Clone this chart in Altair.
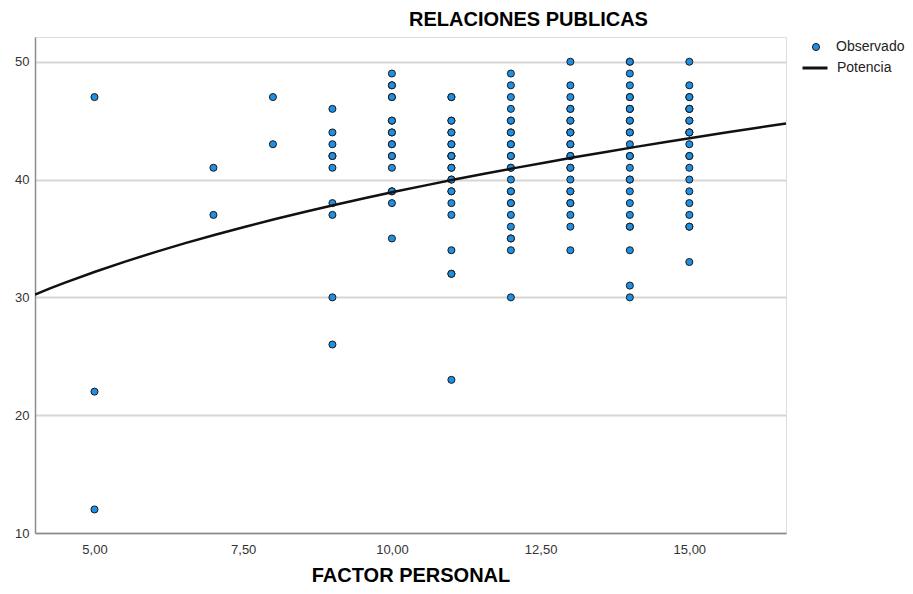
import altair as alt
import pandas as pd

# RELACIONES PUBLICAS values observed at each FACTOR PERSONAL score
factor_values = [5, 7, 8, 9, 10, 11, 12, 13, 14, 15]
rp_5 = [47, 22, 12]
rp_7 = [41, 37]
rp_8 = [47, 43]
rp_9 = [46, 44, 43, 42, 42, 41, 38, 37, 30, 26]
rp_10 = [49, 48, 48, 47, 47, 45, 45, 44, 44, 43, 43, 42, 42, 41, 39, 39, 38, 35]
rp_11 = [47, 47, 45, 45, 44, 44, 43, 43, 42, 42, 42, 41, 41, 40, 40, 39, 39,
         38, 37, 34, 32, 32, 23]
rp_12 = [49, 48, 47, 46, 45, 45, 44, 44, 43, 43, 42, 42, 41, 41, 40, 39, 39,
         38, 38, 37, 36, 35, 35, 34, 30]
rp_13 = [50, 48, 47, 46, 46, 45, 45, 44, 44, 44, 43, 43, 42, 42, 41, 41, 40,
         39, 39, 38, 38, 37, 36, 34]
rp_14 = [50, 50, 49, 48, 47, 47, 46, 46, 46, 45, 45, 44, 44, 43, 42, 42, 41,
         40, 40, 39, 38, 37, 36, 36, 34, 31, 30]
rp_15 = [50, 48, 47, 47, 46, 46, 46, 45, 45, 44, 44, 44, 43, 42, 42, 41, 40,
         39, 38, 37, 36, 36, 33]
rp_columns = [rp_5, rp_7, rp_8, rp_9, rp_10, rp_11, rp_12, rp_13, rp_14, rp_15]

x_ticks = [5, 7.5, 10, 12.5, 15]
y_ticks = [10, 20, 30, 40, 50]

rows = []
for fx, col in zip(factor_values, rp_columns):
    for v in col:
        rows.append({"factor": fx, "rp": v})
df = pd.DataFrame(rows)

FONT = "Liberation Sans"
x_dom = [4, 16.625]
y_dom = [10, 52.1]

x_axis = alt.Axis(
    values=x_ticks,
    labelExpr="replace(format(datum.value, '.2f'), '.', ',')",
    title="FACTOR PERSONAL",
    titleFont=FONT, titleFontSize=20, titleFontWeight="bold", titleColor="#000",
    titleBaseline="alphabetic", titleY=48,
    labelFont=FONT, labelFontSize=13, labelColor="#333",
    labelPadding=10, ticks=False, grid=False,
    domainColor="#8c8c8c", domainWidth=1.5,
)
y_axis = alt.Axis(
    values=y_ticks, title=None,
    labelFont=FONT, labelFontSize=13, labelColor="#333",
    labelPadding=6, ticks=False, grid=True,
    gridColor="#d6d6d6", gridWidth=2,
    domainColor="#8c8c8c", domainWidth=1.5,
)

points = alt.Chart(df).transform_calculate(serie="'Observado'").mark_point(
    shape="circle", filled=True, size=50, stroke="#1a1a1a", strokeWidth=1,
    fillOpacity=1, strokeOpacity=1, opacity=1,
).encode(
    x=alt.X("factor:Q", scale=alt.Scale(domain=x_dom, nice=False, zero=False), axis=x_axis),
    y=alt.Y("rp:Q", scale=alt.Scale(domain=y_dom, nice=False, zero=False), axis=y_axis),
    fill=alt.Fill(
        "serie:N",
        scale=alt.Scale(domain=["Observado"], range=["#1f8fe3"]),
        legend=alt.Legend(
            title=None, orient="none", legendX=774, legendY=3, padding=0,
            symbolType="circle", symbolSize=50, symbolStrokeColor="#1a1a1a",
            symbolStrokeWidth=1, symbolOpacity=1,
            labelFont=FONT, labelFontSize=14, labelColor="#222", labelOffset=13,
        ),
    ),
)

line = alt.Chart(df).transform_regression(
    "factor", "rp", method="pow", extent=x_dom
).transform_calculate(modelo="'Potencia'").mark_line(strokeWidth=2.5, clip=True).encode(
    x=alt.X("factor:Q", scale=alt.Scale(domain=x_dom, nice=False, zero=False)),
    y=alt.Y("rp:Q", scale=alt.Scale(domain=y_dom, nice=False, zero=False)),
    stroke=alt.Stroke(
        "modelo:N",
        scale=alt.Scale(domain=["Potencia"], range=["#111111"]),
        legend=alt.Legend(
            title=None, orient="none", legendX=766, legendY=17, padding=0,
            symbolType="stroke", symbolSize=625, symbolStrokeWidth=3,
            labelFont=FONT, labelFontSize=14, labelColor="#222", labelOffset=8,
        ),
    ),
)

chart = alt.layer(points, line).properties(
    width=751, height=496,
    title=alt.TitleParams(
        "RELACIONES PUBLICAS", font=FONT, fontSize=20, fontWeight="bold",
        color="#000", anchor="middle", dx=118, offset=7,
    ),
    autosize=alt.AutoSizeParams(type="none"),
    padding={"left": 27, "top": 29, "right": 119, "bottom": 53},
).configure_view(stroke=None).configure(background="white")

chart.save("out.html", embed_options={"renderer": "svg", "actions": False})
